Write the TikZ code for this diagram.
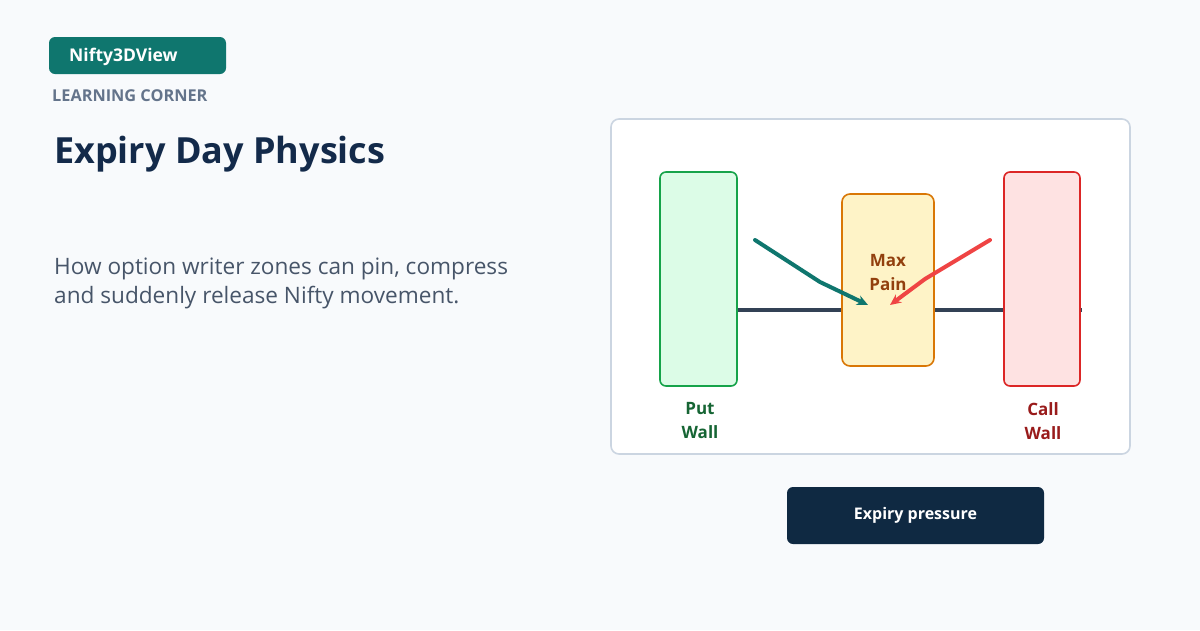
\documentclass[tikz,border=0pt]{standalone}
\usepackage{fontspec}
\setmainfont{Open Sans}
\usetikzlibrary{arrows.meta}
\definecolor{bg}{HTML}{F8FAFC}
\definecolor{teal}{HTML}{0F766E}
\definecolor{muted}{HTML}{64748B}
\definecolor{navy}{HTML}{132A4A}
\definecolor{body}{HTML}{475569}
\definecolor{panelline}{HTML}{CBD5E1}
\definecolor{axis}{HTML}{334155}
\definecolor{putfill}{HTML}{DCFCE7}
\definecolor{putline}{HTML}{16A34A}
\definecolor{puttext}{HTML}{166534}
\definecolor{maxfill}{HTML}{FEF3C7}
\definecolor{maxline}{HTML}{D97706}
\definecolor{maxtext}{HTML}{92400E}
\definecolor{callfill}{HTML}{FEE2E2}
\definecolor{callline}{HTML}{DC2626}
\definecolor{calltext}{HTML}{991B1B}
\definecolor{redarrow}{HTML}{EF4444}
\definecolor{btn}{HTML}{0F2942}
\tikzset{
  wallbox/.style={rounded corners=6pt, line width=1.6pt},
  lbl/.style={font=\fontsize{17}{24}\selectfont\bfseries, align=center, inner sep=0pt},
  pusharrow/.style={line width=4pt, line cap=round, line join=round, -{Stealth[length=11pt,width=10pt]}},
}
\begin{document}
\begin{tikzpicture}[x=1pt,y=-1pt]
\useasboundingbox (0,0) rectangle (1200,630);
\fill[bg] (0,0) rectangle (1200,630);
% header
\node[fill=teal, rounded corners=6pt, minimum width=177pt, minimum height=37pt, inner sep=0pt] (badge) at (137.5,55.5) {};
\node[anchor=west, text=white, font=\fontsize{17.5}{20}\selectfont\bfseries, inner sep=0pt] (brand) at (69,57) {Nifty3DView};
\node[anchor=west, text=muted, font=\fontsize{16.3}{18}\selectfont\bfseries, inner sep=0pt] (kicker) at (52,96) {LEARNING CORNER};
\node[anchor=base west, text=navy, font=\fontsize{36}{40}\selectfont\bfseries, inner sep=0pt] (title) at (54,163) {Expiry Day Physics};
\node[anchor=base west, text=body, font=\fontsize{22.6}{29}\selectfont, align=left, inner sep=0pt] (sub) at (54,303) {How option writer zones can pin, compress\\and suddenly release Nifty movement.};
% panel
\node[draw=panelline, fill=white, line width=1.6pt, rounded corners=8pt, minimum width=519pt, minimum height=335pt, inner sep=0pt] (panel) at (870.5,286.5) {};
% axis
\coordinate (axL) at (659,310);
\coordinate (axR) at (1082,310);
\draw[axis, line width=3.6pt] (axL) -- (axR);
% walls
\node[wallbox, draw=putline, fill=putfill, minimum width=77pt, minimum height=214pt, inner sep=0pt] (put) at (698.5,279) {};
\node[wallbox, draw=maxline, fill=maxfill, rounded corners=8pt, minimum width=92pt, minimum height=172pt, inner sep=0pt] (max) at (888,280) {};
\node[wallbox, draw=callline, fill=callfill, minimum width=76pt, minimum height=214pt, inner sep=0pt] (call) at (1042,279) {};
% labels
\node[lbl, text=maxtext] (maxlbl) at (888,273) {Max\\Pain};
\node[lbl, text=puttext] (putlbl) at (700,421) {Put\\Wall};
\node[lbl, text=calltext] (calllbl) at (1043,421) {Call\\Wall};
% arrows
\coordinate (tStart) at (755,240);
\coordinate (tMid) at (820,282);
\coordinate (tEnd) at (868,305);
\coordinate (rStart) at (990,240);
\coordinate (rMid) at (925,279);
\coordinate (rEnd) at (890,305);
\draw[teal, pusharrow] (tStart) -- (tMid) -- (tEnd);
\draw[redarrow, pusharrow] (rStart) -- (rMid) -- (rEnd);
% button
\node[fill=btn, rounded corners=6pt, minimum width=257pt, minimum height=57pt, inner sep=0pt, text=white, font=\fontsize{16}{20}\selectfont\bfseries] (btnnode) at (915.5,515.5) {Expiry pressure};
\end{tikzpicture}
\end{document}
